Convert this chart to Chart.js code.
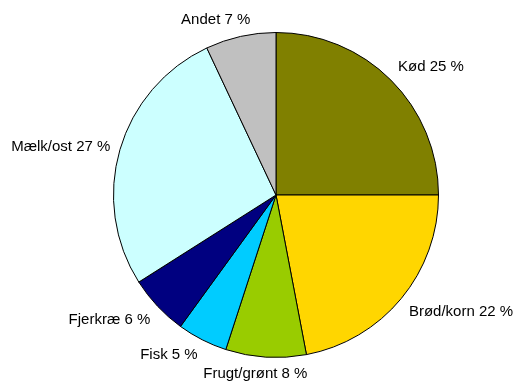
<!DOCTYPE html>
<html>
<head>
<meta charset="utf-8">
<script src="https://cdn.jsdelivr.net/npm/chart.js@4/dist/chart.umd.min.js"></script>
<style>
  html, body { margin: 0; padding: 0; background: #fff; }
  #wrap { width: 515px; height: 385px; }
</style>
</head>
<body>
<div id="wrap"><canvas id="c" width="515" height="385"></canvas></div>
<script>
// Share of each food group (percent)
const categories = ['Kød', 'Brød/korn', 'Frugt/grønt', 'Fisk', 'Fjerkræ', 'Mælk/ost', 'Andet'];
const shares = [25, 22, 8, 5, 6, 27, 7];
const sliceColors = ['#808000', '#FFD600', '#99CC00', '#00CCFF', '#000080', '#CCFFFF', '#C0C0C0'];

// Draws "<name> <value> %" outside each slice, anchored just beyond the rim
const outsideLabels = {
  id: 'outsideLabels',
  afterDatasetsDraw(chart) {
    const ctx = chart.ctx;
    const meta = chart.getDatasetMeta(0);
    ctx.save();
    ctx.font = '15px "Liberation Sans", Arial, sans-serif';
    ctx.fillStyle = '#000';
    ctx.textAlign = 'center';
    ctx.textBaseline = 'middle';
    const clamp = (v, lo, hi) => Math.max(lo, Math.min(hi, v));
    meta.data.forEach((arc, i) => {
      const p = arc.getProps(['x', 'y', 'startAngle', 'endAngle', 'outerRadius'], true);
      const mid = (p.startAngle + p.endAngle) / 2;
      const dx = Math.cos(mid), dy = Math.sin(mid);
      const r = p.outerRadius + 10;
      const ax = p.x + dx * r, ay = p.y + dy * r;
      const text = categories[i] + ' ' + shares[i] + ' %';
      const w = ctx.measureText(text).width;
      const h = 13;
      const sx = clamp(dx * 3, -1, 1);
      const sy = Math.sign(dy) * clamp((Math.abs(dy) - 0.3) * 3, 0, 1);
      ctx.fillText(text, ax + sx * w / 2, ay + sy * h / 2);
    });
    ctx.restore();
  }
};

new Chart(document.getElementById('c'), {
  type: 'pie',
  data: {
    labels: categories,
    datasets: [{
      data: shares,
      backgroundColor: sliceColors,
      borderColor: '#000',
      borderWidth: 1
    }]
  },
  options: {
    responsive: false,
    animation: false,
    layout: { padding: { left: 113, right: 76, top: 32, bottom: 27 } },
    plugins: {
      legend: { display: false },
      tooltip: { enabled: false }
    }
  },
  plugins: [outsideLabels]
});
</script>
</body>
</html>
